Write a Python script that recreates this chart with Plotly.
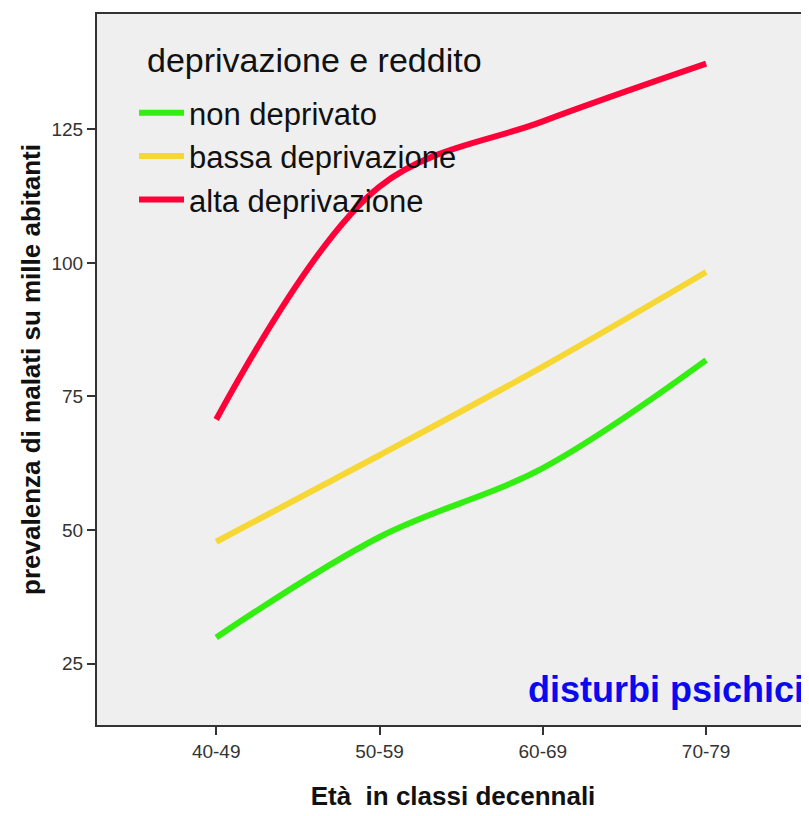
import plotly.graph_objects as go

categories = ["40-49", "50-59", "60-69", "70-79"]
non_deprivato = [29.9, 48.7, 61.6, 81.8]
bassa_deprivazione = [47.8, 64.0, 80.6, 98.3]
alta_deprivazione = [70.7, 114.3, 126.5, 137.3]
y_ticks = [25, 50, 75, 100, 125]

series = [
    ("non deprivato", non_deprivato, "#33ee11"),
    ("bassa deprivazione", bassa_deprivazione, "#f7d733"),
    ("alta deprivazione", alta_deprivazione, "#ff0038"),
]

FONT = "Liberation Sans, Arial, sans-serif"

fig = go.Figure()
for i, (name, vals, color) in enumerate(series):
    fig.add_trace(go.Scatter(
        x=categories, y=vals, name=name, mode="lines",
        line=dict(color=color, width=6, shape="spline", smoothing=1),
    ))

# page body has an 8px default margin; compensate so the chart sits where the reference has it
fig.update_layout(
    width=801, height=808,
    margin=dict(l=89, r=0, t=6, b=91),
    paper_bgcolor="white",
    plot_bgcolor="#efefef",
    font=dict(family=FONT, color="#222"),
    showlegend=True,
    legend=dict(
        x=0.052, y=0.8985, xanchor="left", yanchor="top",
        bgcolor="rgba(0,0,0,0)",
        font=dict(size=31, color="#111", family=FONT),
        itemwidth=45,
        tracegroupgap=0,
    ),
    xaxis=dict(
        type="category",
        range=[-0.73, 3.63],
        showline=True, linecolor="#333", linewidth=2, mirror=True,
        ticks="outside", ticklen=8, tickwidth=2, tickcolor="#333",
        tickfont=dict(size=19, color="#333", family=FONT),
        showgrid=False, zeroline=False,
        title=dict(text="Età\u00a0 in classi decennali",
                   font=dict(size=26, color="#111", family=FONT, weight="bold"),
                   standoff=26),
    ),
    yaxis=dict(
        range=[13.5, 146.6],
        tickvals=y_ticks,
        showline=True, linecolor="#333", linewidth=2, mirror=False,
        ticks="outside", ticklen=8, tickwidth=2, tickcolor="#333",
        tickfont=dict(size=19, color="#333", family=FONT),
        showgrid=False, zeroline=False,
        title=dict(text="prevalenza di malati su mille abitanti",
                   font=dict(size=26, color="#111", family=FONT, weight="bold"),
                   standoff=3),
    ),
    annotations=[
        dict(
            text="deprivazione e reddito", xref="paper", yref="paper",
            x=0.0675, y=0.935, xanchor="left", yanchor="middle", showarrow=False,
            font=dict(size=34, color="#111", family=FONT),
        ),
        dict(
            text="<b>disturbi psichici</b>", xref="paper", yref="paper",
            x=0.996, y=0.0506, xanchor="right", yanchor="middle", showarrow=False,
            font=dict(size=36, color="#0a0af0", family=FONT),
        ),
    ],
)

fig.write_html("out.html")
